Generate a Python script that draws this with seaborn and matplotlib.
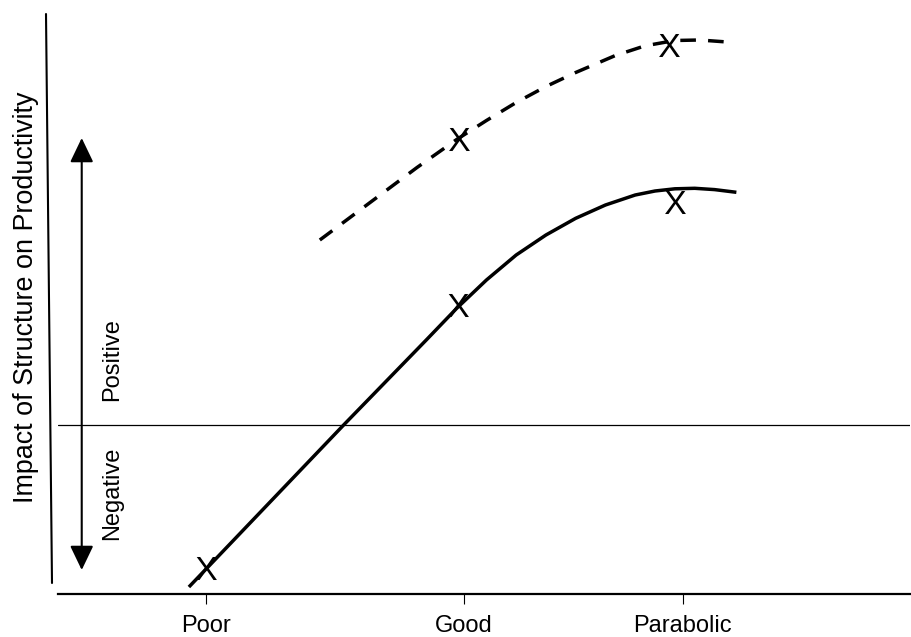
import seaborn as sns
import matplotlib.pyplot as plt
from matplotlib.lines import Line2D

# structure levels along the x axis
categories = ['Poor', 'Good', 'Parabolic']
category_pos = [0, 10, 18.5]

# solid curve
solid_x = [-0.654, 5.346, 8.577, 9.731, 10.885, 12.038, 13.192, 14.346, 15.5,
           16.654, 17.423, 18.192, 18.962, 19.731, 20.577]
solid_y = [-16.2, 0.0, 8.57, 11.67, 14.5, 17.0, 19.0, 20.67, 22.0,
           23.0, 23.4, 23.62, 23.67, 23.54, 23.27]

# dashed curve
dashed_x = [4.423, 6.269, 8.192, 9.731, 10.885, 12.038, 13.192, 14.346, 15.885,
            17.038, 18.192, 19.154, 20.115]
dashed_y = [18.5, 22.05, 25.75, 28.55, 30.45, 32.25, 33.85, 35.25, 36.95,
            37.92, 38.45, 38.5, 38.32]

# the X marks
mark_x = [0, 9.77, 18.18, 9.83, 17.96]
mark_y = [-14.3, 12.0, 22.3, 28.6, 38.0]

ylabel = 'Impact of Structure on Productivity'

sns.set_style('white')
plt.rcParams['font.family'] = ['Liberation Sans', 'DejaVu Sans']
plt.rcParams['mathtext.fontset'] = 'custom'
plt.rcParams['mathtext.rm'] = 'Liberation Sans'
plt.rcParams['text.color'] = 'black'
plt.rcParams['axes.labelcolor'] = 'black'
plt.rcParams['xtick.color'] = 'black'

fig = plt.figure(figsize=(9.11, 6.37), dpi=100)
ax = fig.add_axes([58 / 911, 43 / 637, 852 / 911, 594 / 637])

sns.lineplot(x=solid_x, y=solid_y, sort=False, estimator=None, color='black',
             lw=2.5, solid_capstyle='butt', ax=ax)
sns.lineplot(x=dashed_x, y=dashed_y, sort=False, estimator=None, color='black',
             lw=2.5, linestyle=(0, (4.5, 3.5)), ax=ax)
sns.scatterplot(x=mark_x, y=mark_y, marker=r'$\mathrm{X}$', s=275, color='black',
                linewidth=0, ax=ax, zorder=3)

ax.axhline(0, color='black', lw=0.9)

# double arrow on the left
ax.annotate('', xy=(-4.81, 28.7), xytext=(-4.81, -14.5),
            arrowprops=dict(arrowstyle='<|-|>,head_length=1.5,head_width=0.72',
                            mutation_scale=10, lw=1.5, color='black',
                            shrinkA=0, shrinkB=0))
ax.text(-3.63, 6.5, 'Positive', rotation=90, ha='center', va='center', fontsize=17)
ax.text(-3.63, -6.8, 'Negative', rotation=90, ha='center', va='center', fontsize=17)

# slanted vertical axis line
fig.add_artist(Line2D([46 / 911, 52 / 911], [1 - 14 / 637, 1 - 583 / 637],
                      color='black', lw=1.5))

ax.set_xlim(-5.73, 27.31)
ax.set_ylim(-16.9, 42.5)
ax.set_xticks(category_pos, categories)
ax.set_yticks([])
ax.tick_params(axis='x', bottom=True, length=7.2, width=0.8, pad=8,
               labelsize=17, color='black')
sns.despine(ax=ax, left=True)
ax.spines['bottom'].set_linewidth(1.6)
ax.spines['bottom'].set_color('black')

ax.set_ylabel(ylabel, fontsize=19.4)
ax.yaxis.set_label_coords(-0.0223, 0.5)

fig.savefig('out.png', dpi=100)
